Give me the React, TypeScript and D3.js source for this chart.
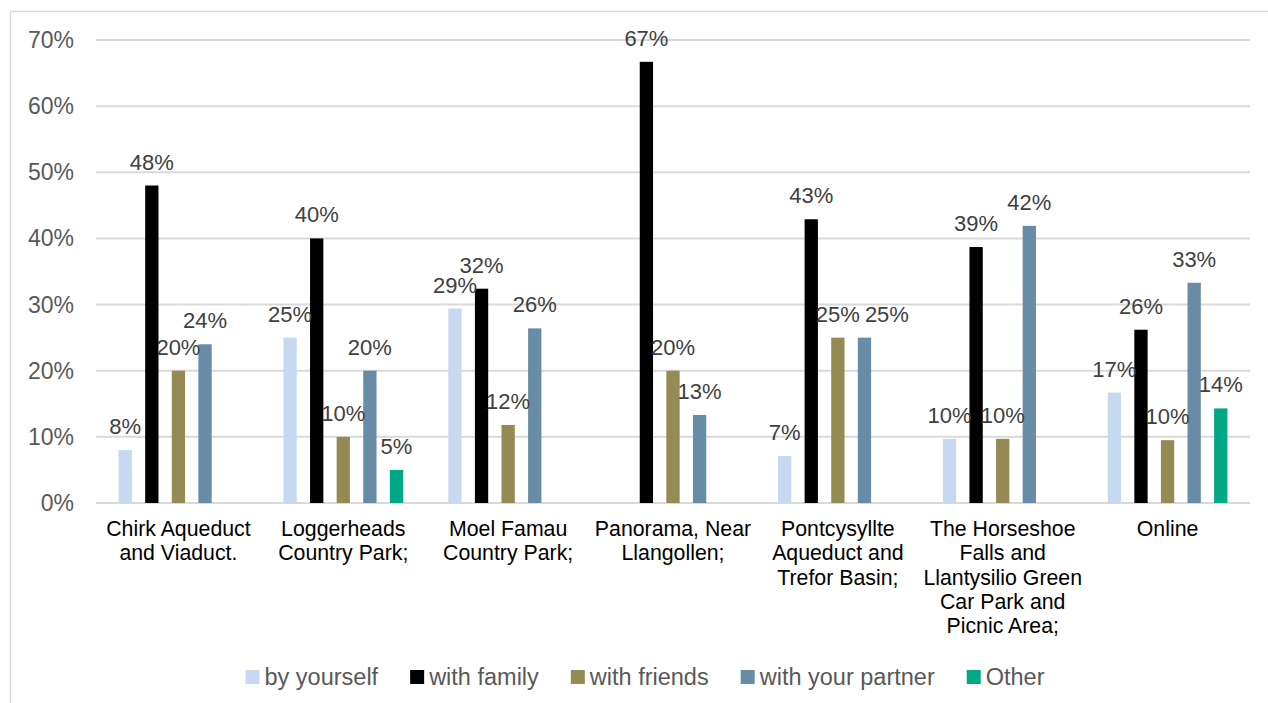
import React, { useEffect, useRef } from "react";
import * as d3 from "d3";

const categories: string[][] = [
  ["Chirk Aqueduct", "and Viaduct."],
  ["Loggerheads", "Country Park;"],
  ["Moel Famau", "Country Park;"],
  ["Panorama, Near", "Llangollen;"],
  ["Pontcysyllte", "Aqueduct and", "Trefor Basin;"],
  ["The Horseshoe", "Falls and", "Llantysilio Green", "Car Park and", "Picnic Area;"],
  ["Online"],
];

const seriesNames = ["by yourself", "with family", "with friends", "with your partner", "Other"];
const seriesColors = ["#C6D9F0", "#000000", "#948A54", "#688BA6", "#00A985"];

// values in %, null = no bar
const byYourself = [8, 25, 29.4, null, 7.1, 9.7, 16.7];
const withFamily = [48, 40, 32.4, 66.7, 42.9, 38.7, 26.2];
const withFriends = [20, 10, 11.8, 20, 25, 9.7, 9.5];
const withPartner = [24, 20, 26.4, 13.3, 25, 41.9, 33.3];
const other = [null, 5, null, null, null, null, 14.3];

const yTicks = [0, 10, 20, 30, 40, 50, 60, 70];

const W = 1268;
const H = 703;
const FONT = "'Liberation Sans', Arial, sans-serif";

export default function App() {
  const ref = useRef<SVGSVGElement>(null);

  useEffect(() => {
    const svg = d3.select(ref.current);
    svg.selectAll("*").remove();

    const plotL = 96, plotR = 1250, plotT = 40, plotB = 503;
    const seriesData = [byYourself, withFamily, withFriends, withPartner, other];

    const x0 = d3.scaleBand<number>().domain(d3.range(categories.length)).range([plotL, plotR]).padding(0);
    const bw0 = x0.bandwidth();
    const inset = bw0 * 0.137;
    const x1 = d3.scaleBand<number>().domain(d3.range(seriesNames.length)).range([inset, bw0 - inset]).paddingInner(0.5).paddingOuter(0);
    const y = d3.scaleLinear().domain([0, 70]).range([plotB, plotT]);

    // border
    svg.append("rect").attr("x", 10.5).attr("y", 11.5).attr("width", W + 20).attr("height", H + 20)
      .attr("fill", "none").attr("stroke", "#D9D9D9").attr("stroke-width", 1.5);

    // gridlines
    svg.append("g").selectAll("line").data(yTicks).join("line")
      .attr("x1", plotL).attr("x2", plotR)
      .attr("y1", (d) => y(d)).attr("y2", (d) => y(d))
      .attr("stroke", "#D9D9D9").attr("stroke-width", 2);

    // y labels
    svg.append("g").selectAll("text").data(yTicks).join("text")
      .attr("x", 74).attr("y", (d) => y(d)).attr("dy", "0.35em")
      .attr("text-anchor", "end").attr("font-family", FONT).attr("font-size", 23)
      .attr("fill", "#595959").text((d) => `${d}%`);

    // bars
    const g = svg.append("g");
    const labels = svg.append("g");
    categories.forEach((_, ci) => {
      let prev: { x1: number; y: number } | null = null;
      seriesData.forEach((vals, si) => {
        const v = vals[ci];
        if (v == null) return;
        const bx = (x0(ci) as number) + (x1(si) as number);
        g.append("rect").attr("x", bx).attr("y", y(v)).attr("width", x1.bandwidth())
          .attr("height", y(0) - y(v)).attr("fill", seriesColors[si]);
        const t = labels.append("text").attr("x", bx + x1.bandwidth() / 2).attr("y", y(v) - 16)
          .attr("text-anchor", "middle").attr("font-family", FONT).attr("font-size", 22)
          .attr("fill", "#404040").text(`${Math.round(v)}%`);
        const node = t.node() as SVGTextElement;
        const w = node.getComputedTextLength();
        let left = bx + x1.bandwidth() / 2 - w / 2;
        const ly = y(v) - 16;
        if (prev && Math.abs(prev.y - ly) < 16 && left < prev.x1 + 4) {
          left = prev.x1 + 5;
          t.attr("x", left + w / 2);
        }
        prev = { x1: left + w, y: ly };
      });
    });

    // category labels
    categories.forEach((lines, ci) => {
      const t = svg.append("text").attr("text-anchor", "middle").attr("font-family", FONT)
        .attr("font-size", 21.3).attr("fill", "#000000");
      lines.forEach((ln, li) => {
        t.append("tspan").attr("x", (x0(ci) as number) + bw0 / 2).attr("y", 536 + li * 24.3).text(ln);
      });
    });

    // legend
    const lg = svg.append("g");
    const sq = 14, gapT = 5, gapItem = 32;
    const widths: number[] = [];
    const items = seriesNames.map((name, i) => {
      const it = lg.append("g");
      it.append("rect").attr("width", sq).attr("height", sq).attr("y", 670).attr("fill", seriesColors[i]);
      const tx = it.append("text").attr("x", sq + gapT).attr("y", 677).attr("dy", "0.35em")
        .attr("font-family", FONT).attr("font-size", 23.5).attr("fill", "#595959").text(name);
      widths.push((tx.node() as SVGTextElement).getComputedTextLength());
      return it;
    });
    const total = d3.sum(widths.map((w) => sq + gapT + w)) + gapItem * (widths.length - 1);
    let cx = 645 - total / 2;
    items.forEach((it, i) => {
      it.attr("transform", `translate(${cx},0)`);
      cx += sq + gapT + widths[i] + gapItem;
    });
  }, []);

  return (
    <svg ref={ref} width={W} height={H}
      style={{ position: "absolute", left: 0, top: 0, background: "#fff", display: "block" }} />
  );
}
